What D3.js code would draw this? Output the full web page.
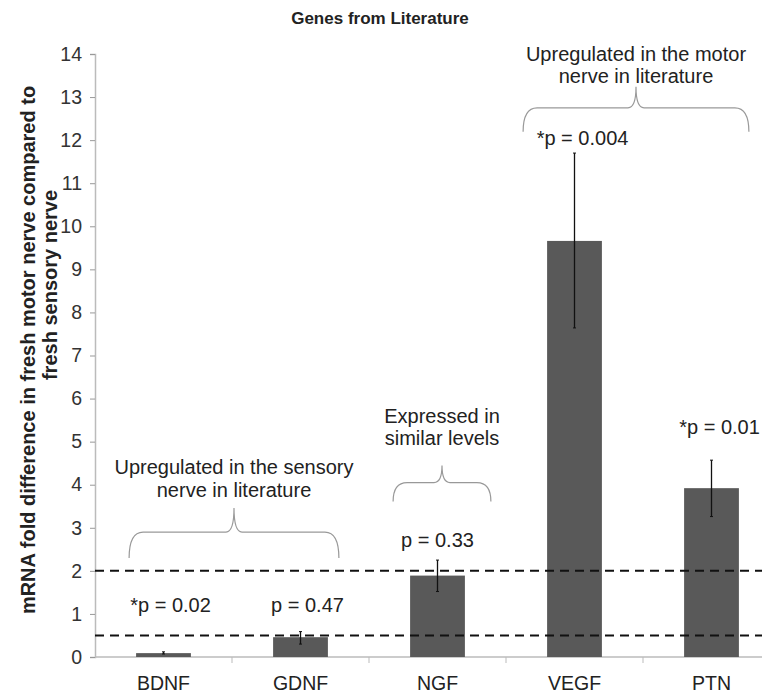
<!DOCTYPE html>
<html><head><meta charset="utf-8">
<script src="https://cdn.jsdelivr.net/npm/d3@7"></script>
<style>body{margin:0;background:#fff}svg{display:block}text{font-family:"Liberation Sans",Arial,sans-serif}</style>
</head><body>
<svg id="c" width="762" height="698"></svg>
<script>
const categories = ["BDNF","GDNF","NGF","VEGF","PTN"];
const values = [0.09, 0.46, 1.89, 9.66, 3.92];
const errLow = [0.07, 0.30, 1.52, 7.64, 3.26];
const errHigh = [0.12, 0.59, 2.25, 11.7, 4.57];
const pLabels = ["*p = 0.02","p = 0.47","p = 0.33","*p = 0.004","*p = 0.01"];
const yTicks = [0,1,2,3,4,5,6,7,8,9,10,11,12,13,14];
const thresholds = [2, 0.5];
const groupLabels = [["Upregulated in the sensory","nerve in literature"],["Expressed in","similar levels"],["Upregulated in the motor","nerve in literature"]];
const groupFrom = ["BDNF","NGF","VEGF"];
const groupTo = ["GDNF","NGF","PTN"];

const svg = d3.select("#c");
const x = d3.scaleBand().domain(categories).range([95, 780]).paddingInner(0.6).paddingOuter(0.3);
const y = d3.scaleLinear().domain([0,14]).range([657, 54]);

// title
svg.append("text").attr("x",380).attr("y",24).attr("text-anchor","middle")
  .attr("font-size",17).attr("font-weight","bold").attr("fill","#222").text("Genes from Literature");

// y axis title
svg.append("text").attr("transform","translate(35,350) rotate(-90)").attr("text-anchor","middle")
  .attr("font-size",20).attr("font-weight","bold").attr("fill","#222")
  .text("mRNA fold difference in fresh motor nerve compared to");
svg.append("text").attr("transform","translate(57,285) rotate(-90)").attr("text-anchor","middle")
  .attr("font-size",20).attr("font-weight","bold").attr("fill","#222")
  .text("fresh sensory nerve");

// y axis
const ya = svg.append("g").attr("transform","translate(95,0)")
  .call(d3.axisLeft(y).tickValues(yTicks).tickSize(5).tickPadding(8).tickFormat(d3.format("d")));
ya.select(".domain").attr("stroke","#bbb").attr("stroke-width",1.5);
ya.selectAll(".tick line").attr("stroke","#999");
ya.selectAll(".tick text").attr("font-size",19.5).attr("fill","#333").attr("font-family","Liberation Sans, Arial, sans-serif");

// x axis
const xa = svg.append("g").attr("transform","translate(0,657)");
xa.append("line").attr("x1",95).attr("x2",762).attr("stroke","#bbb").attr("stroke-width",1.5);
const step = x.step();
categories.forEach((c,i)=>{
  if(i>0){
    const bx = x(c)-(step-x.bandwidth())/2;
    xa.append("line").attr("x1",bx).attr("x2",bx).attr("y1",0).attr("y2",6).attr("stroke","#bbb"); }
  xa.append("text").attr("x",x(c)+x.bandwidth()/2).attr("y",33).attr("text-anchor","middle")
    .attr("font-size",19.5).attr("fill","#222").text(c);
});

// bars
svg.selectAll("rect.bar").data(categories).enter().append("rect")
  .attr("x",d=>x(d)).attr("width",x.bandwidth())
  .attr("y",(d,i)=>y(values[i])).attr("height",(d,i)=>y(0)-y(values[i]))
  .attr("fill","#595959");

// thresholds
thresholds.forEach(t=>{
  svg.append("line").attr("x1",95).attr("x2",762).attr("y1",y(t)).attr("y2",y(t))
    .attr("stroke","#111").attr("stroke-width",2).attr("stroke-dasharray","9,6");
});

// error bars
categories.forEach((c,i)=>{
  const cx = x(c)+x.bandwidth()/2;
  svg.append("line").attr("x1",cx).attr("x2",cx).attr("y1",y(errLow[i])).attr("y2",y(errHigh[i]))
    .attr("stroke","#111").attr("stroke-width",1.3);
  svg.append("line").attr("x1",cx-1.5).attr("x2",cx+1.5).attr("y1",y(errLow[i])).attr("y2",y(errLow[i])).attr("stroke","#111");
  svg.append("line").attr("x1",cx-1.5).attr("x2",cx+1.5).attr("y1",y(errHigh[i])).attr("y2",y(errHigh[i])).attr("stroke","#111");
});

// p labels (baseline positions in axis units)
const pY = [1.05, 1.05, 2.55, 11.89, 5.18];
const pDx = [7, 7, 0, 8, 8];
categories.forEach((c,i)=>{
  svg.append("text").attr("x",x(c)+x.bandwidth()/2+pDx[i]).attr("y",y(pY[i])).attr("text-anchor","middle")
    .attr("font-size",20).attr("fill","#222").text(pLabels[i]);
});

// braces
const braceY = [2.9, 4.05, 12.75];
const braceExt = [[-7,11],[-17,26],[-24,10]];
function brace(x1,x2,yb,drop,tip,cx){
  const r = 8;
  return `M${x1},${yb+drop} Q${x1},${yb} ${x1+r+6},${yb} L${cx-8},${yb} Q${cx},${yb} ${cx},${yb-tip} Q${cx},${yb} ${cx+8},${yb} L${x2-r-6},${yb} Q${x2},${yb} ${x2},${yb+drop}`;
}
const braceDrop = [26,19,24], braceTip=[24,17,21], textGap=[34,43,26];
groupFrom.forEach((g,i)=>{
  const x1 = x(g)+braceExt[i][0], x2 = x(groupTo[i])+x.bandwidth()+braceExt[i][1];
  const cx = (x1+x2)/2, yb = y(braceY[i]);
  svg.append("path").attr("d",brace(x1,x2,yb,braceDrop[i],braceTip[i],cx))
    .attr("fill","none").attr("stroke","#999").attr("stroke-width",1.2);
  const tx = svg.append("text").attr("x",cx).attr("text-anchor","middle").attr("font-size",20).attr("fill","#222");
  const top = yb - braceTip[i] - textGap[i];
  groupLabels[i].forEach((l,j)=>tx.append("tspan").attr("x",cx).attr("y",top+j*22.5).text(l));
});
</script>
</body></html>
